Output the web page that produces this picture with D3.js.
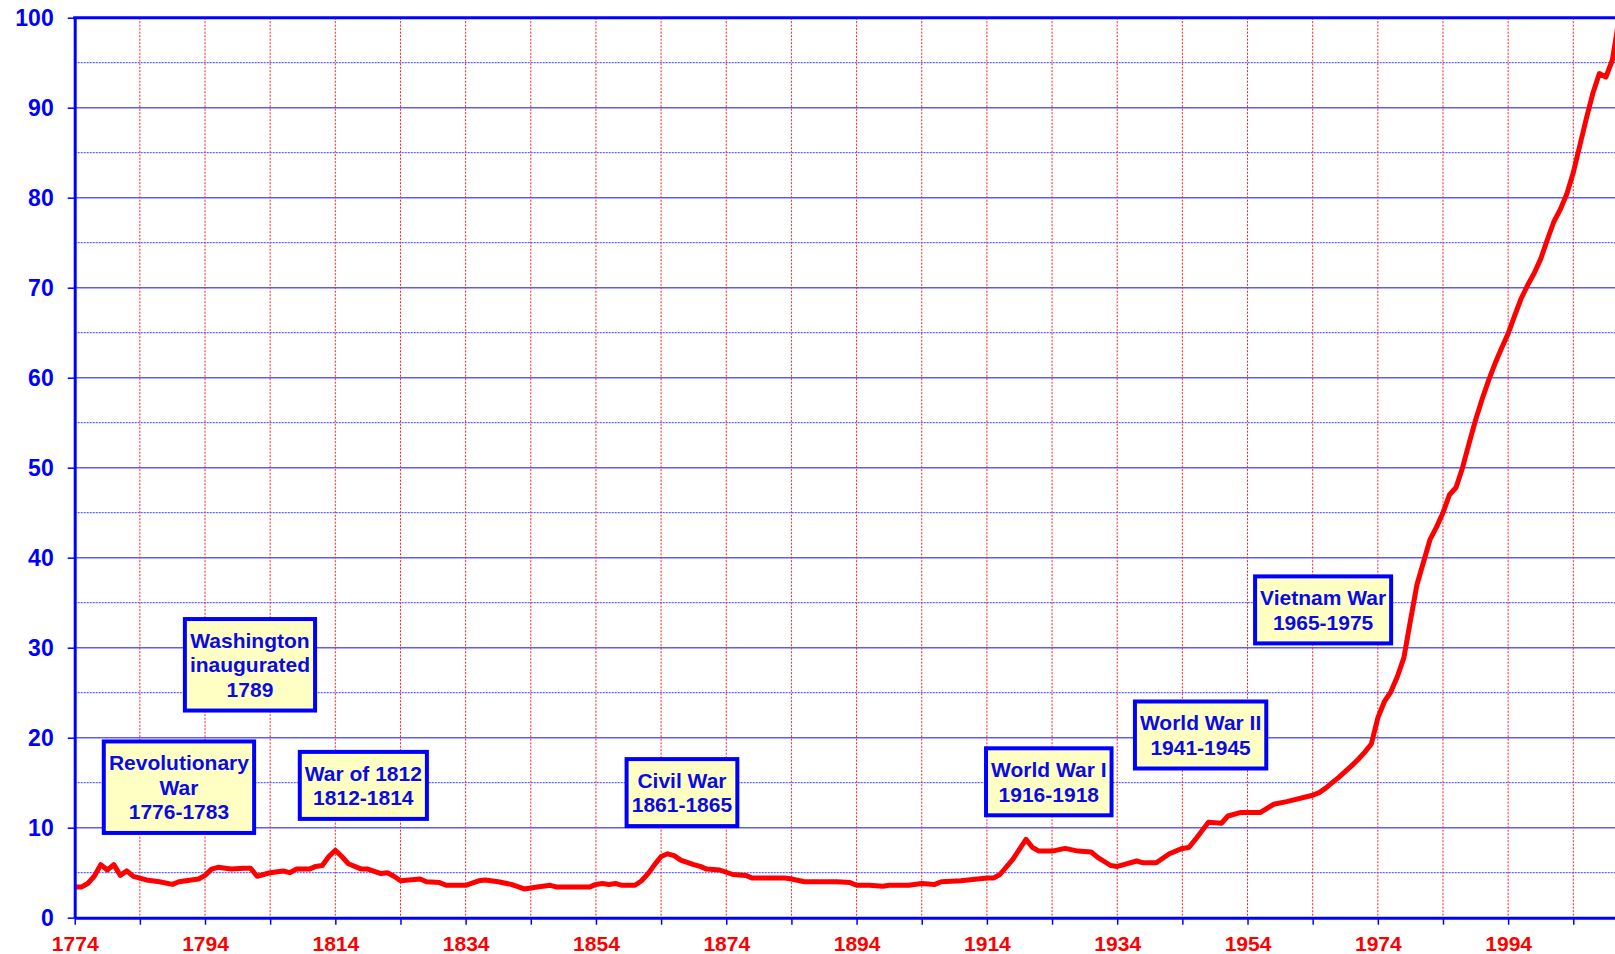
<!DOCTYPE html>
<html>
<head>
<meta charset="utf-8">
<script src="https://cdn.jsdelivr.net/npm/d3@7"></script>
<style>
  html, body { margin: 0; padding: 0; background: #ffffff; }
  svg { display: block; font-family: "Liberation Sans", Arial, sans-serif; }
</style>
</head>
<body>
<div id="chart"></div>
<script>
// values (year, value)
const years = [
  1774, 1775, 1776, 1777, 1778, 1779, 1780, 1781, 1782, 1783, 1785, 1787, 1789, 1790,
  1793, 1794, 1795, 1796, 1798, 1800, 1801, 1802, 1803, 1804, 1806, 1807, 1808, 1810,
  1811, 1812, 1813, 1814, 1815, 1816, 1818, 1819, 1821, 1822, 1823, 1824, 1827, 1828,
  1830, 1831, 1834, 1836, 1837, 1839, 1841, 1843, 1845, 1847, 1848, 1853, 1854, 1855,
  1856, 1857, 1858, 1860, 1861, 1862, 1863, 1864, 1865, 1866, 1867, 1869, 1870, 1871,
  1873, 1875, 1877, 1878, 1883, 1884, 1886, 1891, 1893, 1894, 1896, 1898, 1899, 1902,
  1904, 1906, 1907, 1910, 1914, 1915, 1916, 1918, 1920, 1921, 1922, 1924, 1926, 1928,
  1930, 1931, 1933, 1934, 1935, 1937, 1938, 1940, 1942, 1944, 1945, 1946, 1948, 1950,
  1951, 1953, 1956, 1958, 1960, 1964, 1965, 1966, 1967, 1968, 1970, 1971, 1972, 1973,
  1974, 1975, 1976, 1977, 1978, 1979, 1980, 1981, 1982, 1983, 1984, 1985, 1986, 1987,
  1988, 1989, 1990, 1991, 1992, 1993, 1994, 1995, 1996, 1997, 1998, 1999, 2000, 2001,
  2002, 2003, 2004, 2005, 2006, 2007, 2008, 2009, 2010, 2011
];
const values = [
  3.4, 3.4, 3.8, 4.6, 5.9, 5.3, 5.9, 4.7, 5.2, 4.6, 4.2, 4.0, 3.7, 4.0,
  4.3, 4.7, 5.4, 5.6, 5.4, 5.5, 5.5, 4.6, 4.8, 5.0, 5.2, 5.0, 5.4, 5.4,
  5.7, 5.8, 6.8, 7.5, 6.8, 6.0, 5.4, 5.4, 4.9, 5.0, 4.6, 4.1, 4.3, 4.0,
  3.9, 3.6, 3.6, 4.1, 4.2, 4.0, 3.7, 3.2, 3.4, 3.6, 3.4, 3.4, 3.7, 3.8,
  3.7, 3.8, 3.6, 3.6, 4.1, 4.9, 5.9, 6.8, 7.1, 6.9, 6.4, 5.9, 5.7, 5.4,
  5.3, 4.8, 4.7, 4.4, 4.4, 4.3, 4.0, 4.0, 3.9, 3.6, 3.6, 3.5, 3.6, 3.6,
  3.8, 3.7, 4.0, 4.1, 4.4, 4.4, 4.8, 6.5, 8.7, 7.8, 7.4, 7.4, 7.7, 7.4,
  7.3, 6.7, 5.8, 5.7, 5.9, 6.3, 6.1, 6.1, 7.1, 7.7, 7.8, 8.7, 10.6, 10.5,
  11.3, 11.7, 11.7, 12.6, 12.9, 13.6, 13.9, 14.4, 15.0, 15.6, 16.9, 17.6, 18.4, 19.3,
  22.2, 24.0, 25.1, 26.8, 28.9, 33.0, 37.0, 39.5, 42.0, 43.4, 45.0, 47.0, 47.8, 50.0,
  52.7, 55.3, 57.6, 59.7, 61.6, 63.3, 64.9, 66.9, 68.8, 70.3, 71.6, 73.2, 75.3, 77.3,
  78.7, 80.4, 82.8, 85.8, 88.8, 91.6, 93.8, 93.4, 95.3, 99.8
];

const yTicks = d3.range(0, 101, 10);
const yMinorTicks = d3.range(5, 100, 10);
const xTicks = d3.range(1774, 2011, 10);
const xLabelYears = d3.range(1774, 2011, 20);

// annotation boxes: text lines and the (year, value) of the box centre
const noteLines = [
  ['Washington', 'inaugurated', '1789'],
  ['Revolutionary', 'War', '1776-1783'],
  ['War of 1812', '1812-1814'],
  ['Civil War', '1861-1865'],
  ['World War I', '1916-1918'],
  ['World War II', '1941-1945'],
  ['Vietnam War', '1965-1975']
];
const noteYears = [1800.9, 1790.0, 1818.3, 1867.2, 1923.5, 1946.8, 1965.6];
const noteValues = [28.1, 14.5, 14.7, 13.9, 15.1, 20.3, 34.2];

const width = 1615;
const height = 954;
const margins = { left: 74.7, right: 0, top: 17.7, bottom: 36.3 };

const BLUE = '#0000ff';
const RED = '#ff0000';

const svg = d3.select('#chart')
  .append('svg')
    .attr('width', width)
    .attr('height', height);

const x = d3.scaleLinear()
  .domain([1774, 2010.4])
  .range([margins.left, width - margins.right]);

const y = d3.scaleLinear()
  .domain([0, 100])
  .range([height - margins.bottom, margins.top]);

const x0 = margins.left, x1 = width - margins.right;
const y0 = y(0), y1 = y(100);

// minor horizontal grid (dotted)
svg.append('g')
  .selectAll('line')
  .data(yMinorTicks)
  .enter()
  .append('line')
    .attr('x1', x0).attr('x2', x1)
    .attr('y1', d => y(d)).attr('y2', d => y(d))
    .attr('stroke', '#3a3aff')
    .attr('stroke-width', 1)
    .attr('stroke-dasharray', '2,1');

// major horizontal grid
svg.append('g')
  .selectAll('line')
  .data(yTicks.filter(d => d > 0 && d < 100))
  .enter()
  .append('line')
    .attr('x1', x0).attr('x2', x1)
    .attr('y1', d => y(d)).attr('y2', d => y(d))
    .attr('stroke', '#5c5cff')
    .attr('stroke-width', 1.5);

// vertical grid (red dotted)
svg.append('g')
  .selectAll('line')
  .data(xTicks.filter(d => d > 1774))
  .enter()
  .append('line')
    .attr('x1', d => x(d)).attr('x2', d => x(d))
    .attr('y1', y1).attr('y2', y0)
    .attr('stroke', '#ff2020')
    .attr('stroke-width', 1)
    .attr('stroke-dasharray', '2,1.5');

// top border
svg.append('line')
  .attr('x1', x0 - 1.5).attr('x2', x1)
  .attr('y1', y1).attr('y2', y1)
  .attr('stroke', BLUE)
  .attr('stroke-width', 3);

// line
svg.append('clipPath')
    .attr('id', 'plot-clip')
  .append('rect')
    .attr('x', x0).attr('y', y1)
    .attr('width', x1 - x0).attr('height', y0 - y1);

const line = d3.line()
  .x((d, i) => x(years[i]))
  .y(d => y(d));

svg.append('path')
  .datum(values)
  .attr('clip-path', 'url(#plot-clip)')
  .attr('fill', 'none')
  .attr('stroke', RED)
  .attr('stroke-width', 5)
  .attr('stroke-linejoin', 'round')
  .attr('stroke-linecap', 'round')
  .attr('d', line);

// axes
const yAxis = d3.axisLeft(y)
  .tickValues(yTicks)
  .tickSize(7)
  .tickSizeOuter(0)
  .tickPadding(14);

const gy = svg.append('g')
  .attr('transform', 'translate(' + x0 + ',0)')
  .call(yAxis);

gy.select('.domain').attr('stroke', BLUE).attr('stroke-width', 3);
gy.selectAll('.tick line').attr('stroke', BLUE).attr('stroke-width', 1.5);
gy.selectAll('.tick text')
  .attr('fill', BLUE)
  .attr('font-size', 23)
  .attr('font-weight', 'bold')
  .attr('font-family', '"Liberation Sans", Arial, sans-serif');

const xAxis = d3.axisBottom(x)
  .tickValues(xTicks)
  .tickSize(7)
  .tickSizeOuter(0)
  .tickPadding(11)
  .tickFormat(d => xLabelYears.includes(d) ? String(d) : '');

const gx = svg.append('g')
  .attr('transform', 'translate(0,' + y0 + ')')
  .call(xAxis);

gx.select('.domain').attr('stroke', BLUE).attr('stroke-width', 3);
gx.selectAll('.tick line').attr('stroke', BLUE).attr('stroke-width', 1.5);
gx.selectAll('.tick text')
  .attr('fill', RED)
  .attr('font-size', 21)
  .attr('font-weight', 'bold')
  .attr('font-family', '"Liberation Sans", Arial, sans-serif');

// annotation boxes
const lineGap = 24.5;
noteLines.forEach((lines, i) => {
  const cx = x(noteYears[i]);
  const cy = y(noteValues[i]);
  const g = svg.append('g').attr('class', 'note');

  const rect = g.append('rect')
    .attr('fill', '#ffffc4')
    .attr('stroke', BLUE)
    .attr('stroke-width', 4);

  const text = g.append('text')
    .attr('fill', '#0a0ae6')
    .attr('font-size', 21)
    .attr('font-weight', 'bold')
    .attr('text-anchor', 'middle');

  lines.forEach((t, j) => {
    text.append('tspan')
      .attr('x', cx)
      .attr('y', cy + (j - (lines.length - 1) / 2) * lineGap)
      .attr('dy', '0.36em')
      .text(t);
  });

  const bb = text.node().getBBox();
  const w = bb.width + 10;
  const h = lines.length * lineGap + 18;
  rect.attr('x', cx - w / 2).attr('y', cy - h / 2)
    .attr('width', w).attr('height', h);
});
</script>
</body>
</html>
